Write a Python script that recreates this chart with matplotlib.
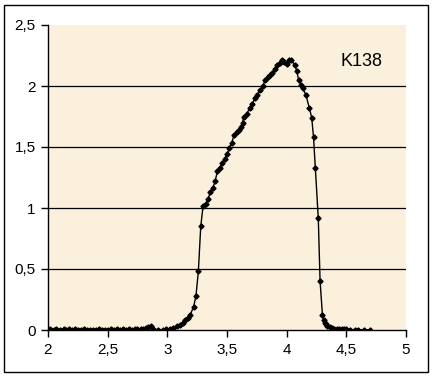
import matplotlib

matplotlib.use("Agg")
import matplotlib.pyplot as plt
from matplotlib.patches import Rectangle
from matplotlib.ticker import FuncFormatter

# values (K138)
x_vals = [
    2.00, 2.02, 2.05, 2.07, 2.10, 2.13, 2.15, 2.18, 2.20, 2.23,
    2.25, 2.28, 2.30, 2.33, 2.35, 2.38, 2.40, 2.43, 2.45, 2.48,
    2.50, 2.53, 2.55, 2.58, 2.60, 2.63, 2.65, 2.68, 2.70, 2.73,
    2.75, 2.78, 2.80, 2.82, 2.84, 2.86, 2.88, 2.92, 2.96, 2.99,
    3.02, 3.05, 3.08, 3.11, 3.13, 3.15, 3.17, 3.19, 3.22, 3.24,
    3.26, 3.28, 3.30, 3.32, 3.34, 3.36, 3.38, 3.40, 3.42, 3.44,
    3.46, 3.48, 3.50, 3.52, 3.54, 3.56, 3.58, 3.60, 3.62, 3.63,
    3.64, 3.665, 3.69, 3.71, 3.735, 3.755, 3.78, 3.80, 3.82, 3.84,
    3.86, 3.88, 3.90, 3.92, 3.94, 3.96, 3.98, 4.00, 4.02, 4.04,
    4.07, 4.085, 4.10, 4.12, 4.135, 4.16, 4.19, 4.21, 4.225, 4.24,
    4.265, 4.28, 4.30, 4.31, 4.32, 4.33, 4.34, 4.36, 4.38, 4.40,
    4.42, 4.44, 4.46, 4.48, 4.50, 4.53, 4.57, 4.60, 4.65, 4.70,
]
y_vals = [
    0.005, 0.008, 0.004, 0.006, 0.003, 0.007, 0.004, 0.008, 0.003, 0.006,
    0.004, 0.002, 0.005, 0.003, 0.002, 0.004, 0.003, 0.006, 0.003, 0.002,
    0.004, 0.006, 0.003, 0.005, 0.004, 0.006, 0.003, 0.005, 0.004, 0.006,
    0.008, 0.010, 0.012, 0.018, 0.025, 0.030, 0.012, 0.000, 0.000, 0.008,
    0.012, 0.020, 0.030, 0.045, 0.060, 0.080, 0.100, 0.120, 0.190, 0.280,
    0.480, 0.850, 1.020, 1.030, 1.070, 1.130, 1.160, 1.220, 1.300, 1.330,
    1.370, 1.400, 1.440, 1.490, 1.535, 1.600, 1.620, 1.640, 1.660, 1.700,
    1.750, 1.770, 1.820, 1.850, 1.900, 1.930, 1.970, 2.000, 2.050, 2.070,
    2.090, 2.110, 2.140, 2.170, 2.190, 2.210, 2.200, 2.180, 2.210, 2.210,
    2.170, 2.120, 2.050, 2.010, 1.980, 1.930, 1.820, 1.740, 1.580, 1.330,
    0.915, 0.400, 0.120, 0.080, 0.060, 0.050, 0.035, 0.025, 0.020, 0.012,
    0.010, 0.008, 0.010, 0.006, 0.008, 0.004, 0.002, 0.003, 0.002, 0.001,
]
x_ticks = [2, 2.5, 3, 3.5, 4, 4.5, 5]
y_ticks = [0, 0.5, 1, 1.5, 2, 2.5]
series_label = "K138"

plt.rcParams["font.family"] = ["Liberation Sans", "DejaVu Sans"]


def comma_fmt(v, _pos):
    s = f"{v:g}"
    return s.replace(".", ",")


fig = plt.figure(figsize=(4.33, 3.77), dpi=100)
fig.patch.set_facecolor("white")
ax = fig.add_axes([48 / 433, 1 - 330 / 377, (406 - 48) / 433, (330 - 25) / 377])
ax.set_facecolor("#fbf0dc")

for y in y_ticks[1:-1]:
    ax.axhline(y, color="black", linewidth=0.9, zorder=1)

ax.plot(x_vals, y_vals, color="black", linewidth=1.0, marker="D",
        markersize=2.6, markerfacecolor="black", markeredgecolor="black", zorder=3)

ax.text(4.45, 2.2, series_label, fontsize=13, ha="left", va="center")

ax.set_xlim(2, 5)
ax.set_ylim(0, 2.5)
ax.set_xticks(x_ticks)
ax.set_yticks(y_ticks)
ax.xaxis.set_major_formatter(FuncFormatter(comma_fmt))
ax.yaxis.set_major_formatter(FuncFormatter(comma_fmt))
ax.tick_params(direction="out", length=5, width=1, labelsize=11, color="black", pad=4)
for side in ["top", "right"]:
    ax.spines[side].set_visible(False)
for side in ["left", "bottom"]:
    ax.spines[side].set_linewidth(1.0)
ax.spines["left"].set_zorder(4)

# outer chart border
fig.patches.append(Rectangle((4 / 433, 1 - 372 / 377), 424 / 433, 367 / 377,
                             transform=fig.transFigure, fill=False,
                             edgecolor="black", linewidth=1.0))

fig.savefig("out.png", dpi=100)
